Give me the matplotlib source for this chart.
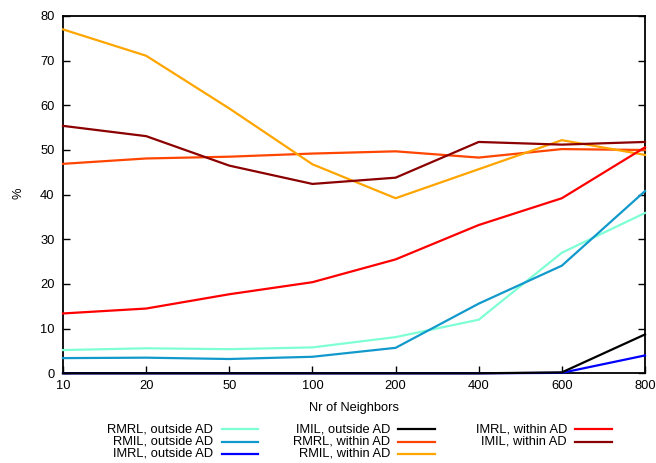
import matplotlib
matplotlib.use("Agg")
import matplotlib.pyplot as plt
from matplotlib.lines import Line2D

plt.rcParams['font.family'] = ['Liberation Sans', 'DejaVu Sans']

neighbors = ["10", "20", "50", "100", "200", "400", "600", "800"]

rmrl_out = [5.2, 5.6, 5.4, 5.8, 8.1, 12.0, 27.0, 35.9]
rmil_out = [3.4, 3.5, 3.2, 3.7, 5.7, 15.6, 24.1, 40.8]
imrl_out = [0.0, 0.0, 0.0, 0.0, 0.0, 0.0, 0.1, 4.0]
imil_out = [0.0, 0.0, 0.0, 0.0, 0.0, 0.0, 0.2, 8.7]
rmrl_in = [46.9, 48.1, 48.5, 49.2, 49.7, 48.3, 50.2, 50.0]
rmil_in = [77.0, 71.1, 59.3, 46.8, 39.2, 45.7, 52.2, 48.9]
imrl_in = [13.4, 14.5, 17.7, 20.4, 25.5, 33.2, 39.2, 50.6]
imil_in = [55.4, 53.1, 46.5, 42.4, 43.8, 51.8, 51.2, 51.8]

series = [
    ("RMRL, outside AD", rmrl_out, "#7fffd4"),
    ("RMIL, outside AD", rmil_out, "#1199cc"),
    ("IMRL, outside AD", imrl_out, "#0000ff"),
    ("IMIL, outside AD", imil_out, "#000000"),
    ("RMRL, within AD", rmrl_in, "#ff4500"),
    ("RMIL, within AD", rmil_in, "#ffa500"),
    ("IMRL, within AD", imrl_in, "#ff0000"),
    ("IMIL, within AD", imil_in, "#8b0000"),
]

FS = 9.3
W, H = 656, 463
fig = plt.figure(figsize=(W / 100, H / 100), dpi=100)
ax = fig.add_axes([63 / W, 1 - 373.3 / H, (645 - 63) / W, (373.3 - 16) / H])

x = list(range(len(neighbors)))
for label, vals, col in series:
    ax.plot(x, vals, color=col, lw=1.6, clip_on=False, zorder=3)

ax.set_xlim(0, len(neighbors) - 1)
ax.set_ylim(0, 80)
ax.set_xticks(x)
ax.set_xticklabels(neighbors)
ax.set_yticks(range(0, 81, 10))
ax.tick_params(axis='x', direction='in', length=5, width=1, pad=5, labelsize=FS, top=False)
ax.tick_params(axis='y', direction='in', length=5, width=1, pad=6, labelsize=FS, right=True)
for s in ax.spines.values():
    s.set_linewidth(1.3)
    s.set_zorder(2)
ax.set_xlabel("Nr of Neighbors", fontsize=FS, labelpad=7)
fig.text(18 / W, 1 - 193 / H, "%", rotation=90, ha='center', va='center', fontsize=FS)

# legend, gnuplot style: text right-aligned, sample line after it
text_right = [213, 390, 567]
line_span = [(222, 258), (398, 435), (575, 612)]
rows = [429, 441.5, 454]
for i, (label, vals, col) in enumerate(series):
    c, r = divmod(i, 3)
    y = 1 - rows[r] / H
    fig.text(text_right[c] / W, y, label, ha='right', va='center', fontsize=FS)
    x0, x1 = line_span[c]
    fig.add_artist(Line2D([x0 / W, x1 / W], [y, y], color=col, lw=1.6,
                          transform=fig.transFigure))

fig.savefig("out.png", dpi=100)
